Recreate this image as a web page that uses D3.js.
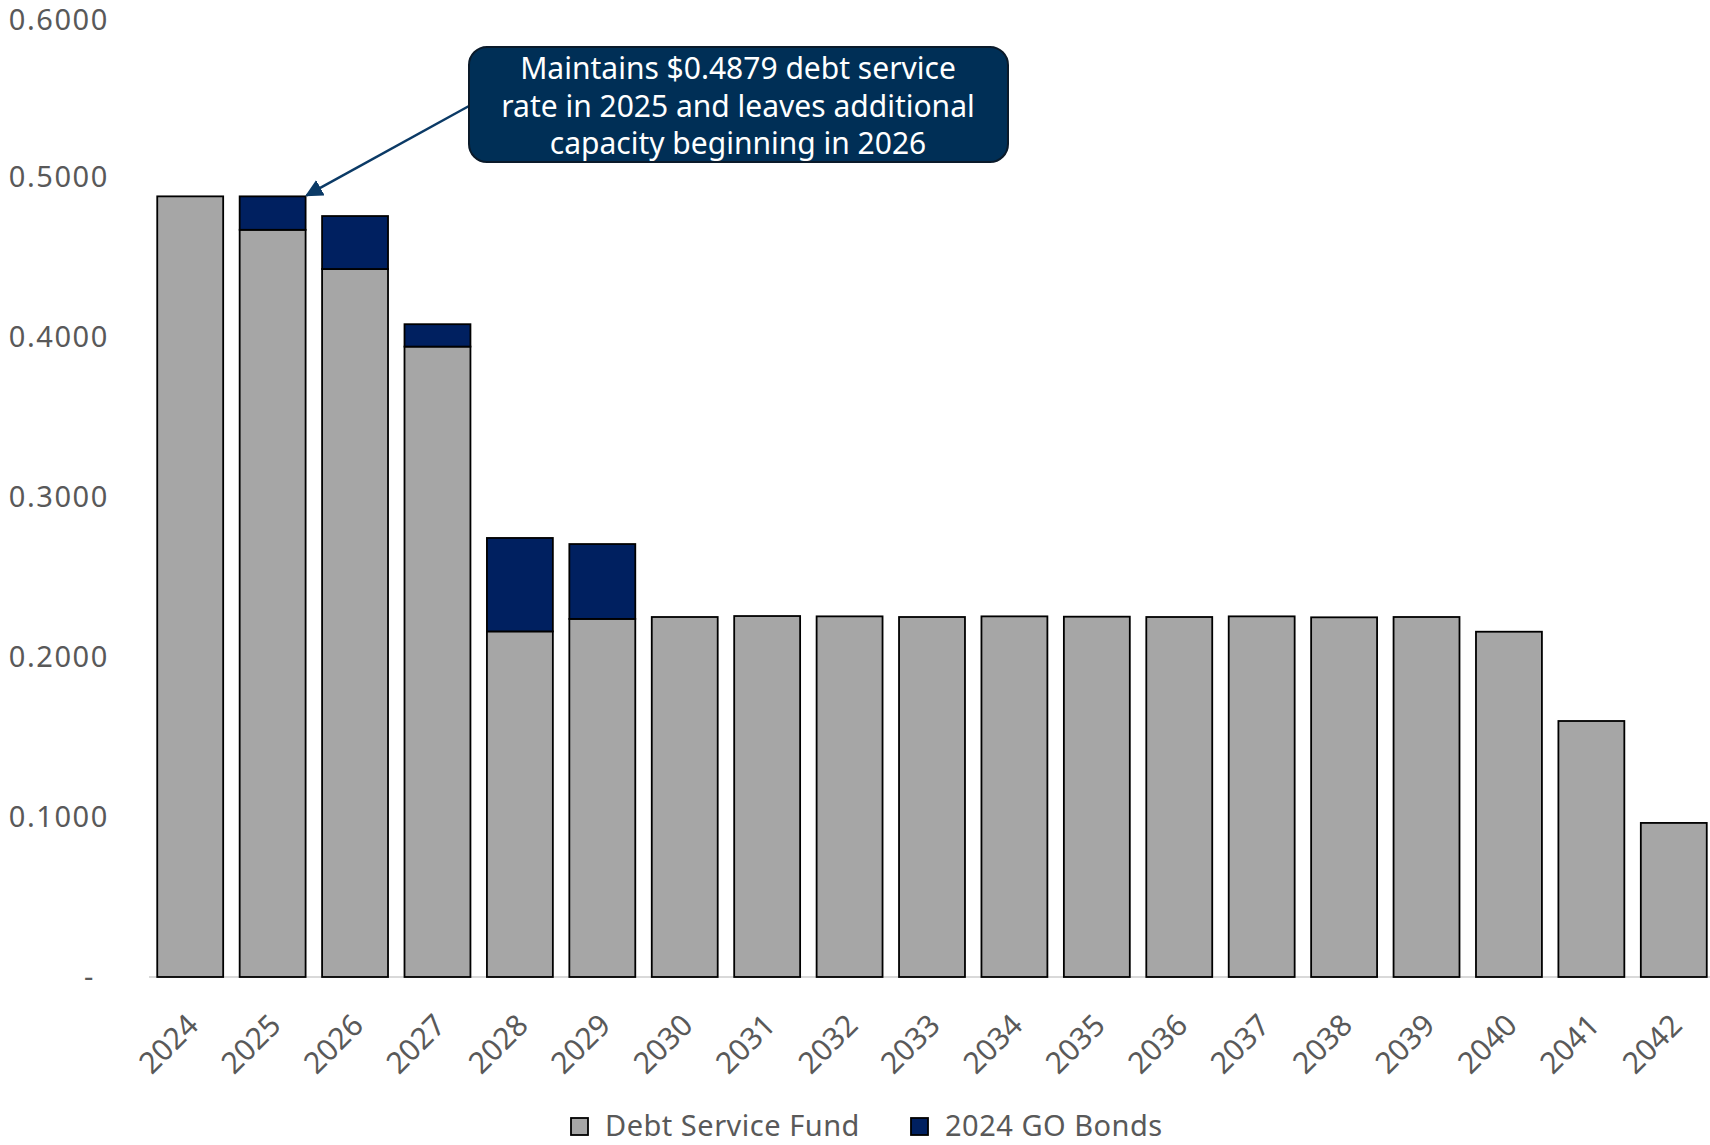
<!DOCTYPE html>
<html>
<head>
<meta charset="utf-8">
<script src="https://cdn.jsdelivr.net/npm/d3@7"></script>
<style>
	body { margin: 0; background: #fff; }
	svg { display: block; font-family: "Noto Sans", sans-serif; }
</style>
</head>
<body>
<div id="chart"></div>
<script>
const years = ['2024', '2025', '2026', '2027', '2028', '2029', '2030', '2031', '2032', '2033',
	'2034', '2035', '2036', '2037', '2038', '2039', '2040', '2041', '2042'];
const debt_service_fund = [0.4879, 0.4670, 0.4425, 0.3940, 0.2160, 0.2238, 0.2250, 0.2256, 0.2254, 0.2250,
	0.2254, 0.2252, 0.2250, 0.2254, 0.2248, 0.2250, 0.2158, 0.1600, 0.0963];
const go_bonds_2024 = [0, 0.0209, 0.0331, 0.0140, 0.0584, 0.0468, 0, 0, 0, 0,
	0, 0, 0, 0, 0, 0, 0, 0, 0];
const series_names = ['Debt Service Fund', '2024 GO Bonds'];
const series_colors = ['#a6a6a6', '#002060'];
const y_ticks = [0, 0.1, 0.2, 0.3, 0.4, 0.5, 0.6];
const note_lines = ['Maintains $0.4879 debt service', 'rate in 2025 and leaves additional', 'capacity beginning in 2026'];

const width = 1710, height = 1145;

var svg = d3.select('#chart').append('svg')
	.attr('width', width)
	.attr('height', height)

var x = d3.scaleBand()
	.domain(years)
	.range([149, 1715])
	.paddingInner(0.2)
	.paddingOuter(0.1)

var y = d3.scaleLinear()
	.domain([0, 0.6])
	.range([977, 17])

// rows for the stack
var rows = years.map((yr, i) => ({year: yr, dsf: debt_service_fund[i], go: go_bonds_2024[i]}));
var stacked = d3.stack().keys(['dsf', 'go'])(rows);

// y axis labels
var yAxis = svg.append('g')
	.attr('transform', 'translate(109,0)')
	.call(d3.axisLeft(y).tickValues(y_ticks).tickSize(0).tickPadding(0)
		.tickFormat(d => d == 0 ? '-' : d3.format('.4f')(d)))
yAxis.select('.domain').remove()
yAxis.selectAll('text')
	.style('font-family', '"Noto Sans", sans-serif')
	.style('font-size', '29px')
	.style('letter-spacing', '1.6px')
	.style('fill', '#595959')
yAxis.selectAll('.tick').filter(d => d == 0).select('text')
	.attr('x', -14)
yAxis.selectAll('.tick').filter(d => d == 0.6).select('text')
	.attr('dy', '0.42em')

// baseline
svg.append('line')
	.attr('x1', 149).attr('x2', width)
	.attr('y1', y(0)).attr('y2', y(0))
	.style('stroke', '#d9d9d9')
	.style('stroke-width', 2)

// bars
stacked.forEach((layer, li) => {
	svg.append('g').selectAll('rect')
		.data(layer.filter(d => d[1] - d[0] > 0))
		.join('rect')
		.attr('x', d => x(d.data.year))
		.attr('width', x.bandwidth())
		.attr('y', d => y(d[1]))
		.attr('height', d => y(d[0]) - y(d[1]))
		.style('fill', series_colors[li])
		.style('stroke', '#000')
		.style('stroke-width', 1.8)
});

// x axis labels
var xAxis = svg.append('g')
	.attr('transform', 'translate(0,' + y(0) + ')')
	.call(d3.axisBottom(x).tickSize(0).tickPadding(0))
xAxis.select('.domain').remove()
xAxis.selectAll('text')
	.style('font-family', '"Noto Sans", sans-serif')
	.style('font-size', '30px')
	.style('fill', '#595959')
	.style('text-anchor', 'end')
	.attr('dy', 0)
	.attr('transform', 'translate(10,50) rotate(-45)')

// annotation arrow
svg.append('defs').append('marker')
	.attr('id', 'arrow')
	.attr('viewBox', '0 0 10 10')
	.attr('refX', 9).attr('refY', 5)
	.attr('markerWidth', 7).attr('markerHeight', 7)
	.attr('markerUnits', 'strokeWidth')
	.attr('orient', 'auto')
	.append('path')
	.attr('d', 'M0,0 L10,5 L0,10 z')
	.style('fill', '#0b3a66')

var tip_x = x('2025') + x.bandwidth() + 1;
svg.append('line')
	.attr('x1', 469).attr('y1', 106)
	.attr('x2', tip_x).attr('y2', y(0.4879) - 1)
	.style('stroke', '#0b3a66')
	.style('stroke-width', 2.5)
	.attr('marker-end', 'url(#arrow)')

// annotation box
svg.append('rect')
	.attr('x', 469).attr('y', 47)
	.attr('width', 539).attr('height', 115)
	.attr('rx', 18).attr('ry', 18)
	.style('fill', '#002f56')
	.style('stroke', '#0a1a2a')
	.style('stroke-width', 2)

svg.append('g').selectAll('text')
	.data(note_lines)
	.join('text')
	.attr('x', 738)
	.attr('y', (d, i) => 79 + i * 37.5)
	.attr('text-anchor', 'middle')
	.style('font-size', '30px')
	.style('fill', '#fff')
	.text(d => d)

// legend
var legend_x = [571, 911];
var legend = svg.append('g').selectAll('g')
	.data(series_names)
	.join('g')
	.attr('transform', (d, i) => 'translate(' + legend_x[i] + ',1118)')
legend.append('rect')
	.attr('width', 17).attr('height', 17)
	.style('fill', (d, i) => series_colors[i])
	.style('stroke', '#000')
	.style('stroke-width', 1.8)
legend.append('text')
	.attr('x', 34).attr('y', 18)
	.style('font-size', '29px')
	.style('letter-spacing', '0.5px')
	.style('fill', '#595959')
	.text(d => d)
</script>
</body>
</html>
